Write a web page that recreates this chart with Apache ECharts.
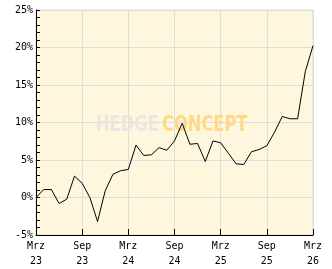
<!DOCTYPE html>
<html><head><meta charset="utf-8">
<script src="https://cdn.jsdelivr.net/npm/echarts@6/dist/echarts.min.js"></script>
<style>html,body{margin:0;padding:0;background:#fff}#c{width:332px;height:269px}</style>
</head><body><div id="c"></div>
<script>
// month index from Mrz 23 (0) to Mrz 26 (36)
const months = [0,1,2,3,4,5,6,7,8,9,10,11,12,13,14,15,16,17,18,19,20,21,22,23,24,25,26,27,28,29,30,31,32,33,34,35,36];
const values = [0,1.06,1.06,-0.8,-0.22,2.85,1.9,0,-3.2,0.92,3.1,3.57,3.74,7.0,5.6,5.7,6.65,6.3,7.55,9.9,7.1,7.2,4.8,7.55,7.3,5.9,4.5,4.4,6.1,6.4,6.9,8.7,10.8,10.5,10.5,16.8,20.25];
const tickLabels = {0:'Mrz\n23',6:'Sep\n23',12:'Mrz\n24',18:'Sep\n24',24:'Mrz\n25',30:'Sep\n25',36:'Mrz\n26'};
const yMin = -5, yMax = 25, yStep = 5;

const font = 'DejaVu Sans Mono';
const chart = echarts.init(document.getElementById('c'), null, {renderer:'canvas'});
chart.setOption({
  animation:false,
  backgroundColor:'#ffffff',
  grid:{left:36,right:19,top:10,bottom:32,show:true,backgroundColor:'#FFF6DE',borderColor:'#dddddd',borderWidth:1},
  graphic:[{
    type:'text', x:96, y:115, scaleX:0.86, scaleY:1, z:1, silent:true,
    style:{
      x:0, y:0,
      text:'{a|HEDGE}{b|CONCEPT}',
      rich:{
        a:{fontFamily:'DejaVu Sans Condensed',fontWeight:'bold',fontSize:21,fill:'#E8E6E0',padding:[0,4,0,0]},
        b:{fontFamily:'DejaVu Sans Condensed',fontWeight:'bold',fontSize:21,fill:'#FFD985'}
      }
    }
  }],
  xAxis:{
    type:'value', min:0, max:36, interval:6,
    axisLine:{show:true,onZero:false,lineStyle:{color:'#000',width:1}},
    axisTick:{show:true,inside:true,length:6,lineStyle:{color:'#000'}},
    splitLine:{show:true,lineStyle:{color:'#dddddd',width:1}},
    axisLabel:{fontFamily:font,fontSize:10,color:'#000',lineHeight:15,margin:4,
      formatter:v=>tickLabels[v]||''}
  },
  yAxis:{
    type:'value', min:yMin, max:yMax, interval:yStep,
    axisLine:{show:true,lineStyle:{color:'#000',width:1}},
    axisTick:{show:true,inside:true,length:4,lineStyle:{color:'#000'}},
    minorTick:{show:true,splitNumber:5,length:4,lineStyle:{color:'#000'}},
    splitLine:{show:true,lineStyle:{color:'#dddddd',width:1}},
    axisLabel:{fontFamily:font,fontSize:10,color:'#000',margin:3,formatter:v=>v+'%'}
  },
  series:[{
    type:'line', data:months.map((m,i)=>[m,values[i]]), showSymbol:false, z:5,
    lineStyle:{color:'#000',width:1}
  }]
});
</script></body></html>
